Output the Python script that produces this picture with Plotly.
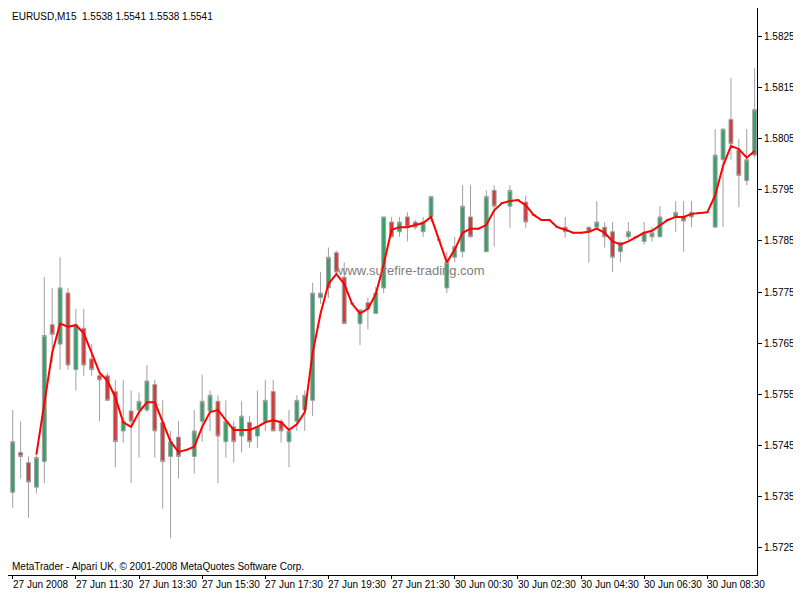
import plotly.graph_objects as go

# 15-minute EURUSD bars (doji bars have o=h=l=c)
opens = [1.57358, 1.57436, 1.57416, 1.57368, 1.57418, 1.57686, 1.57648, 1.57748, 1.57598, 1.57679,
         1.57619, 1.57586, 1.57586, 1.57555, 1.57478, 1.57517, 1.57519, 1.57519, 1.57569, 1.57495,
         1.57428, 1.57466, 1.57441, 1.57428, 1.57497, 1.57517, 1.57536, 1.57457, 1.57486, 1.57468,
         1.57495, 1.57468, 1.57497, 1.57555, 1.57497, 1.57457, 1.57497, 1.57519, 1.57538, 1.57739,
         1.57758, 1.57827, 1.57779, 1.57727, 1.57688, 1.57729, 1.57708, 1.57758, 1.57887, 1.57868,
         1.57897, 1.57887, 1.57868, 1.57897, 1.57852, 1.57758, 1.57818, 1.57829, 1.57897, 1.57874,
         1.57829, 1.57949, 1.57924, 1.57918, 1.57930, 1.57926, 1.57901, 1.57891, 1.57891, 1.57877,
         1.57877, 1.57866, 1.57866, 1.57877, 1.57877, 1.57877, 1.57868, 1.57829, 1.57858, 1.57858,
         1.57849, 1.57858, 1.57858, 1.57891, 1.57897, 1.57897, 1.57897, 1.57905, 1.57906, 1.57877,
         1.58009, 1.58088, 1.58028, 1.57968, 1.58018]
highs = [1.57519, 1.57497, 1.57428, 1.57436, 1.57779, 1.57758, 1.57818, 1.57758, 1.57717, 1.57717,
         1.57648, 1.57592, 1.57592, 1.57578, 1.57578, 1.57557, 1.57553, 1.57607, 1.57578, 1.57538,
         1.57478, 1.57497, 1.57441, 1.57519, 1.57588, 1.57557, 1.57548, 1.57538, 1.57497, 1.57536,
         1.57507, 1.57557, 1.57578, 1.57578, 1.57501, 1.57519, 1.57548, 1.57557, 1.57768, 1.57789,
         1.57837, 1.57831, 1.57808, 1.57727, 1.57715, 1.57739, 1.57760, 1.57897, 1.57897, 1.57897,
         1.57906, 1.57891, 1.57897, 1.57937, 1.57852, 1.57829, 1.57858, 1.57959, 1.57959, 1.57874,
         1.57949, 1.57959, 1.57924, 1.57959, 1.57930, 1.57939, 1.57901, 1.57891, 1.57891, 1.57877,
         1.57897, 1.57866, 1.57866, 1.57877, 1.57928, 1.57887, 1.57887, 1.57849, 1.57887, 1.57858,
         1.57887, 1.57877, 1.57918, 1.57891, 1.57928, 1.57928, 1.57928, 1.57905, 1.57906, 1.58069,
         1.58069, 1.58169, 1.58049, 1.58069, 1.58188]
lows = [1.57327, 1.57385, 1.57308, 1.57356, 1.57376, 1.57611, 1.57598, 1.57598, 1.57557, 1.57586,
        1.57586, 1.57497, 1.57538, 1.57407, 1.57455, 1.57376, 1.57426, 1.57515, 1.57426, 1.57326,
        1.57268, 1.57385, 1.57441, 1.57395, 1.57457, 1.57478, 1.57376, 1.57426, 1.57416, 1.57436,
        1.57445, 1.57445, 1.57478, 1.57478, 1.57455, 1.57407, 1.57478, 1.57478, 1.57507, 1.57727,
        1.57739, 1.57785, 1.57688, 1.57727, 1.57646, 1.57677, 1.57708, 1.57748, 1.57858, 1.57858,
        1.57849, 1.57872, 1.57858, 1.57887, 1.57852, 1.57748, 1.57808, 1.57818, 1.57858, 1.57874,
        1.57829, 1.57839, 1.57924, 1.57876, 1.57930, 1.57876, 1.57901, 1.57891, 1.57891, 1.57877,
        1.57856, 1.57866, 1.57866, 1.57808, 1.57872, 1.57837, 1.57789, 1.57808, 1.57852, 1.57858,
        1.57843, 1.57849, 1.57858, 1.57891, 1.57868, 1.57829, 1.57877, 1.57905, 1.57906, 1.57877,
        1.57877, 1.58009, 1.57916, 1.57959, 1.58013]
closes = [1.57457, 1.57428, 1.57378, 1.57426, 1.57665, 1.57667, 1.57758, 1.57607, 1.57686, 1.57607,
          1.57598, 1.57578, 1.57538, 1.57457, 1.57497, 1.57497, 1.57536, 1.57576, 1.57478, 1.57418,
          1.57457, 1.57428, 1.57441, 1.57478, 1.57536, 1.57548, 1.57468, 1.57497, 1.57457, 1.57507,
          1.57457, 1.57486, 1.57538, 1.57478, 1.57478, 1.57478, 1.57538, 1.57548, 1.57748, 1.57748,
          1.57818, 1.57789, 1.57688, 1.57727, 1.57715, 1.57717, 1.57748, 1.57897, 1.57858, 1.57887,
          1.57877, 1.57877, 1.57887, 1.57937, 1.57852, 1.57808, 1.57839, 1.57918, 1.57858, 1.57874,
          1.57937, 1.57918, 1.57924, 1.57949, 1.57930, 1.57887, 1.57901, 1.57891, 1.57891, 1.57877,
          1.57868, 1.57866, 1.57866, 1.57868, 1.57887, 1.57858, 1.57818, 1.57847, 1.57868, 1.57858,
          1.57866, 1.57866, 1.57897, 1.57891, 1.57906, 1.57889, 1.57906, 1.57905, 1.57906, 1.58018,
          1.58069, 1.58040, 1.57978, 1.58009, 1.58107]

# red smoothed line
ma = [None, None, None, 1.57432, 1.57534, 1.57631, 1.57688, 1.57682, 1.57685, 1.57669,
      1.57631, 1.57592, 1.57576, 1.57544, 1.57495, 1.57486, 1.57515, 1.57534, 1.57534, 1.57495,
      1.57457, 1.57437, 1.57441, 1.57447, 1.57486, 1.57515, 1.57519, 1.57499, 1.57480, 1.57480,
      1.57480, 1.57486, 1.57495, 1.57499, 1.57495, 1.57480, 1.57491, 1.57515, 1.57631, 1.57708,
      1.57766, 1.57785, 1.57766, 1.57727, 1.57708, 1.57717, 1.57746, 1.57804, 1.57872, 1.57877,
      1.57877, 1.57881, 1.57885, 1.57897, 1.57852, 1.57808, 1.57833, 1.57866, 1.57874, 1.57874,
      1.57881, 1.57910, 1.57924, 1.57928, 1.57930, 1.57920, 1.57901, 1.57891, 1.57891, 1.57877,
      1.57872, 1.57866, 1.57866, 1.57868, 1.57874, 1.57866, 1.57849, 1.57843, 1.57849, 1.57858,
      1.57866, 1.57870, 1.57881, 1.57891, 1.57897, 1.57897, 1.57903, 1.57905, 1.57906, 1.57939,
      1.57997, 1.58036, 1.58030, 1.58013, 1.58026]

time_labels = ["27 Jun 2008", "27 Jun 11:30", "27 Jun 13:30", "27 Jun 15:30", "27 Jun 17:30",
               "27 Jun 19:30", "27 Jun 21:30", "30 Jun 00:30", "30 Jun 02:30", "30 Jun 04:30",
               "30 Jun 06:30", "30 Jun 08:30"]
label_bars = [0, 8, 16, 24, 32, 40, 48, 56, 64, 72, 80, 88]

price_ticks = [1.5725, 1.5735, 1.5745, 1.5755, 1.5765, 1.5775, 1.5785, 1.5795, 1.5805, 1.5815, 1.5825]

bars = list(range(len(opens)))
font = "Liberation Sans"

fig = go.Figure()
fig.add_trace(go.Candlestick(
    x=bars, open=opens, high=highs, low=lows, close=closes,
    increasing=dict(line=dict(color="#a0a0a0", width=1), fillcolor="#36a06a"),
    decreasing=dict(line=dict(color="#a0a0a0", width=1), fillcolor="#d23c3c"),
    whiskerwidth=0, hoverinfo="skip",
))
fig.add_trace(go.Scatter(x=bars, y=ma, mode="lines",
                         line=dict(color="#ff0000", width=2), hoverinfo="skip"))

# page has an 8px body margin, so the figure is sized to fit the remaining window
fig.update_layout(
    width=793, height=588,
    margin=dict(l=0, r=44, t=0, b=21, autoexpand=False),
    paper_bgcolor="white", plot_bgcolor="white",
    showlegend=False,
    font=dict(family=font, size=10, color="black"),
)
fig.update_xaxes(range=[-0.6, 94.3], rangeslider_visible=False,
                 showgrid=False, zeroline=False,
                 showline=True, linecolor="black", linewidth=1, mirror=True,
                 tickvals=label_bars, ticks="outside", ticklen=3, tickcolor="black",
                 showticklabels=False)
fig.update_yaxes(range=[1.57196, 1.58306], side="right",
                 showgrid=False, zeroline=False,
                 showline=True, linecolor="black", linewidth=1, mirror=True,
                 tickvals=price_ticks, ticktext=[f"{p:.4f}" for p in price_ticks],
                 ticks="outside", ticklen=4, tickcolor="black",
                 tickfont=dict(family=font, size=10))

for b, lab in zip(label_bars, time_labels):
    fig.add_annotation(x=b, y=0, xref="x", yref="paper", text=lab, showarrow=False,
                       xanchor="left", yanchor="top", yshift=-2, xshift=-2,
                       font=dict(family=font, size=10))

fig.add_annotation(x=0.003, y=0.998, xref="paper", yref="paper",
                   text="EURUSD,M15  1.5538 1.5541 1.5538 1.5541", showarrow=False,
                   xanchor="left", yanchor="top", font=dict(family=font, size=10))
fig.add_annotation(x=0.003, y=0.002, xref="paper", yref="paper",
                   text="MetaTrader - Alpari UK, © 2001-2008 MetaQuotes Software Corp.",
                   showarrow=False, xanchor="left", yanchor="bottom",
                   font=dict(family=font, size=10))
fig.add_annotation(x=0.538, y=0.537, xref="paper", yref="paper",
                   text="www.surefire-trading.com", showarrow=False,
                   font=dict(family=font, size=13, color="#808080"))

fig.write_html("out.html")
